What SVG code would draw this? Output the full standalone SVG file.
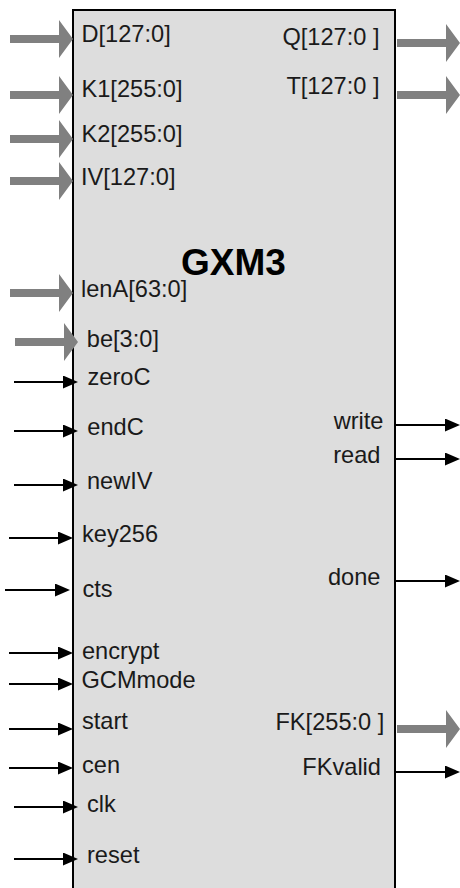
<svg xmlns="http://www.w3.org/2000/svg" width="460" height="888" viewBox="0 0 460 888">
<style>
.lbl{font-family:"Liberation Sans",Arial,sans-serif;font-size:23.6px;fill:#1a1a1a}
.r{text-anchor:end}
.title{font-family:"Liberation Sans",Arial,sans-serif;font-size:37px;font-weight:bold;fill:#000}
.bus{fill:#808080}
.sig{stroke:#000;stroke-width:2;fill:none}
</style>
<defs>
<marker id="ah" markerUnits="userSpaceOnUse" markerWidth="15" markerHeight="13" refX="10" refY="6.5" orient="auto">
<path d="M0,0 L15,6.5 L0,13 Z" fill="#000"/>
</marker>
<path id="busL" d="M0,-4 L49,-4 L49,-19 L63,0 L49,19 L49,4 L0,4 Z"/>
</defs>
<rect width="460" height="888" fill="#fff"/>
<g id="gxm3">
<rect x="73" y="10" width="322" height="890" fill="#dddddd" stroke="#000" stroke-width="2"/>
<text class="title" x="181" y="275">GXM3</text>
<text class="lbl" x="81.5" y="42">D[127:0]</text>
<text class="lbl" x="81.5" y="97">K1[255:0]</text>
<text class="lbl" x="81.5" y="141.5">K2[255:0]</text>
<text class="lbl" x="81" y="185">IV[127:0]</text>
<text class="lbl" x="81" y="297">lenA[63:0]</text>
<text class="lbl" x="86.8" y="347">be[3:0]</text>
<text class="lbl" x="87.5" y="385">zeroC</text>
<text class="lbl" x="87.3" y="435">endC</text>
<text class="lbl" x="87" y="489">newIV</text>
<text class="lbl" x="82" y="541.5">key256</text>
<text class="lbl" x="82.5" y="596.5">cts</text>
<text class="lbl" x="82" y="659">encrypt</text>
<text class="lbl" x="81.5" y="688">GCMmode</text>
<text class="lbl" x="82" y="729">start</text>
<text class="lbl" x="82" y="772.5">cen</text>
<text class="lbl" x="87" y="811.5">clk</text>
<text class="lbl" x="87" y="862.5">reset</text>
<text class="lbl r" x="379.5" y="44.5">Q[127:0 ]</text>
<text class="lbl r" x="379.5" y="93.5">T[127:0 ]</text>
<text class="lbl r" x="383.5" y="429">write</text>
<text class="lbl r" x="380.5" y="463">read</text>
<text class="lbl r" x="380.5" y="585">done</text>
<text class="lbl r" x="384.3" y="730">FK[255:0 ]</text>
<text class="lbl r" x="381" y="775">FKvalid</text>
</g>
<g id="connectors">
<use href="#busL" class="bus" transform="translate(10,39)"/>
<use href="#busL" class="bus" transform="translate(10,95)"/>
<use href="#busL" class="bus" transform="translate(10,139)"/>
<use href="#busL" class="bus" transform="translate(10,181)"/>
<use href="#busL" class="bus" transform="translate(10,293)"/>
<use href="#busL" class="bus" transform="translate(15,342)"/>
<use href="#busL" class="bus" transform="translate(397,43)"/>
<use href="#busL" class="bus" transform="translate(397,95)"/>
<use href="#busL" class="bus" transform="translate(397,729)"/>
<line class="sig" x1="14" y1="382" x2="73" y2="382" marker-end="url(#ah)"/>
<line class="sig" x1="14" y1="431" x2="73" y2="431" marker-end="url(#ah)"/>
<line class="sig" x1="14" y1="485" x2="73" y2="485" marker-end="url(#ah)"/>
<line class="sig" x1="9" y1="538" x2="68" y2="538" marker-end="url(#ah)"/>
<line class="sig" x1="5" y1="590" x2="65" y2="590" marker-end="url(#ah)"/>
<line class="sig" x1="9" y1="653" x2="68" y2="653" marker-end="url(#ah)"/>
<line class="sig" x1="9" y1="684" x2="68" y2="684" marker-end="url(#ah)"/>
<line class="sig" x1="9" y1="729" x2="68" y2="729" marker-end="url(#ah)"/>
<line class="sig" x1="9" y1="768" x2="68" y2="768" marker-end="url(#ah)"/>
<line class="sig" x1="14" y1="807" x2="73" y2="807" marker-end="url(#ah)"/>
<line class="sig" x1="14" y1="859" x2="73" y2="859" marker-end="url(#ah)"/>
<line class="sig" x1="396" y1="425" x2="455" y2="425" marker-end="url(#ah)"/>
<line class="sig" x1="396" y1="459" x2="455" y2="459" marker-end="url(#ah)"/>
<line class="sig" x1="396" y1="581" x2="455" y2="581" marker-end="url(#ah)"/>
<line class="sig" x1="396" y1="772" x2="455" y2="772" marker-end="url(#ah)"/>
</g>
</svg>
